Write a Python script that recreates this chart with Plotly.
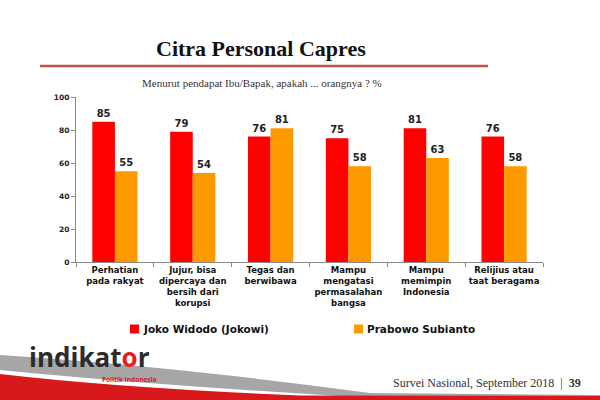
import plotly.graph_objects as go

categories = [
    "Perhatian<br>pada rakyat",
    "Jujur, bisa<br>dipercaya dan<br>bersih dari<br>korupsi",
    "Tegas dan<br>berwibawa",
    "Mampu<br>mengatasi<br>permasalahan<br>bangsa",
    "Mampu<br>memimpin<br>Indonesia",
    "Relijius atau<br>taat beragama",
]
jokowi = [85, 79, 76, 75, 81, 76]
prabowo = [55, 54, 81, 58, 63, 58]
series_names = ["Joko Widodo (Jokowi)", "Prabowo Subianto"]
series_colors = ["#FF0000", "#FF9900"]
y_ticks = [0, 20, 40, 60, 80, 100]

W, H = 600, 400
L, R, T, B = 76, 57, 97, 138
PW = W - L - R
PH = H - T - B


def px(x):
    return (x - L) / PW


def py(y):
    return (H - B - y) / PH


def path(pts_cmds):
    out = []
    for c in pts_cmds:
        if isinstance(c, str):
            out.append(c)
        else:
            out.append(f"{px(c[0]):.5f},{py(c[1]):.5f}")
    return " ".join(out)


sans = "DejaVu Sans"
serif = "Liberation Serif"

fig = go.Figure()
for name, vals, col in zip(series_names, [jokowi, prabowo], series_colors):
    fig.add_trace(go.Bar(
        x=categories, y=vals, name=name,
        marker=dict(color=col, line=dict(width=0)),
        text=vals, textposition="outside", cliponaxis=False,
        textfont=dict(family=sans, size=10, color="#222", weight="bold"),
        showlegend=False,
    ))

shapes = [
    # title underline
    dict(type="line", xref="paper", yref="paper",
         x0=px(40), x1=px(488), y0=py(66), y1=py(66),
         line=dict(color="#C0504D", width=2.5)),
    # gray swoosh
    dict(type="path", xref="paper", yref="paper",
         path=path(["M", (0, 355), "Q", (170, 366), (370, 393), "L", (600, 395),
                    "L", (600, 397), "L", (340, 396), "Q", (140, 384), (0, 370), "Z"]),
         fillcolor="#A6A6A6", line=dict(width=0), layer="above"),
    # red band
    dict(type="path", xref="paper", yref="paper",
         path=path(["M", (0, 374), "Q", (120, 388), (300, 395.5), "L", (600, 396),
                    "L", (600, 400), "L", (0, 400), "Z"]),
         fillcolor="#D7191C", line=dict(width=0), layer="above"),
]

# custom legend
legend_x = [130, 354]
legend_y = 329
annotations = []
for lx, name, col in zip(legend_x, series_names, series_colors):
    shapes.append(dict(type="rect", xref="paper", yref="paper",
                       x0=px(lx), x1=px(lx + 9), y0=py(legend_y - 4.5), y1=py(legend_y + 4.5),
                       fillcolor=col, line=dict(width=0)))
    annotations.append(dict(text=name, x=px(lx + 11), y=py(legend_y),
                            xref="paper", yref="paper", showarrow=False,
                            font=dict(family=sans, size=10.5, color="#111", weight="bold"),
                            xanchor="left", yanchor="middle"))

annotations += [
    dict(text="<b>Citra Personal Capres</b>", x=px(261), y=py(48),
         xref="paper", yref="paper", showarrow=False,
         font=dict(family=serif, size=22, color="#111"), xanchor="center", yanchor="middle"),
    dict(text="Menurut pendapat Ibu/Bapak, apakah ... orangnya ? %", x=px(262), y=py(83),
         xref="paper", yref="paper", showarrow=False,
         font=dict(family=serif, size=11, color="#333"), xanchor="center", yanchor="middle"),
    dict(text="indikat<span style='color:#E31E24'>o</span>r", x=px(27), y=py(357),
         xref="paper", yref="paper", showarrow=False,
         font=dict(family="Open Sans", size=26, color="#2B2B2B", weight="bold"),
         xanchor="left", yanchor="middle"),
    dict(text="Politik Indonesia", x=px(100), y=py(379),
         xref="paper", yref="paper", showarrow=False,
         font=dict(family="Open Sans", size=6.5, color="#D7191C", weight="bold"),
         xanchor="left", yanchor="middle"),
    dict(text="Survei Nasional, September 2018  |  <b>39</b>", x=px(583), y=py(383),
         xref="paper", yref="paper", showarrow=False,
         font=dict(family=serif, size=12, color="#333"), xanchor="right", yanchor="middle"),
]

fig.update_layout(
    width=W, height=H,
    margin=dict(l=L, r=R, t=T, b=B),
    paper_bgcolor="white", plot_bgcolor="white",
    barmode="group", bargap=0.42, bargroupgap=0,
    showlegend=False,
    xaxis=dict(tickson="boundaries", ticks="outside", ticklen=4, tickcolor="#888",
               showline=True, linecolor="#888", linewidth=1, tickangle=0,
               tickfont=dict(family=sans, size=8.5, color="#111", weight="bold"),
               showgrid=False),
    yaxis=dict(range=[0, 100], tickvals=y_ticks, ticks="outside", ticklen=4,
               tickcolor="#888", showline=True, linecolor="#888", linewidth=1,
               showgrid=False, zeroline=False,
               tickfont=dict(family=sans, size=7.5, color="#222", weight="bold")),
    shapes=shapes,
    annotations=annotations,
)

fig.write_html("out.html")
